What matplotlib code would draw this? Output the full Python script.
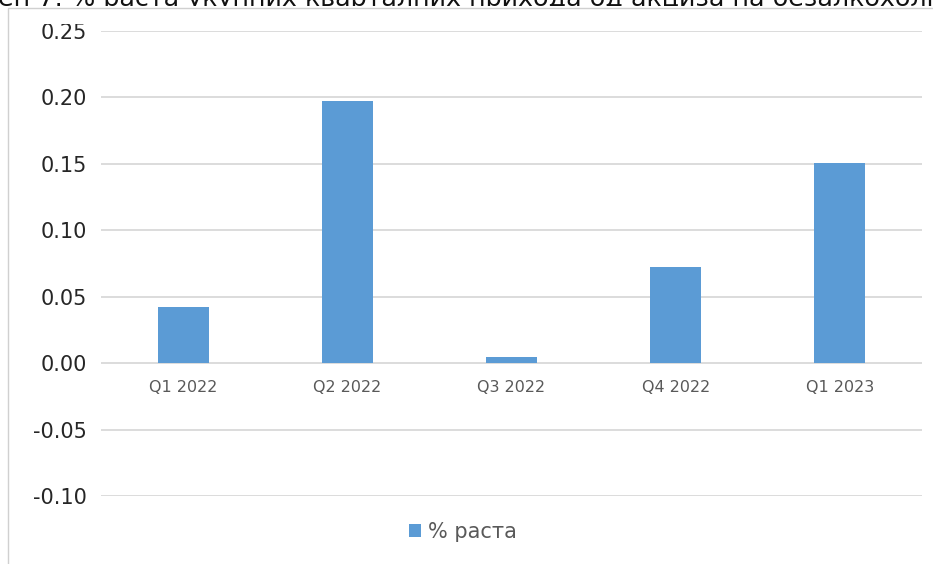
import matplotlib
matplotlib.use("Agg")
import matplotlib.pyplot as plt
from matplotlib.patches import Rectangle

quarters = ["Q1 2022", "Q2 2022", "Q3 2022", "Q4 2022", "Q1 2023"]
growth = [0.042, 0.197, 0.0045, 0.072, 0.1505]
yticks = [-0.10, -0.05, 0.00, 0.05, 0.10, 0.15, 0.20, 0.25]
series_label = "% раста"
title = "ен 7: % раста укупних кварталних прихода од акциза на безалкохолна пића"

W, H = 933, 564
BAR = "#5B9BD5"
GRID = "#d9d9d9"

plt.rcParams["font.family"] = ["DejaVu Sans"]
fig = plt.figure(figsize=(W / 100, H / 100), dpi=100)

# title, mostly hidden behind the chart area in the source screenshot
fig.text(-2 / W, 1 - 6 / H, title, fontsize=18.3, va="baseline", ha="left",
         color="#111111", zorder=3)
# white chart area covering the lower part of the title
fig.patches.append(Rectangle((0, 1 - 24 / H), 1, 18.5 / H, transform=fig.transFigure,
                             facecolor="white", edgecolor="none", zorder=3.5))
# outer chart frame (cut off right/bottom in the source)
fig.patches.append(Rectangle((8 / W, -0.05), 1.0, (H - 8) / H + 0.05,
                             transform=fig.transFigure, fill=False,
                             edgecolor="#d0d0d0", linewidth=1.0, zorder=4))

ax = fig.add_axes([101 / W, 68 / H, 821 / W, (496 - 31) / H])
x = range(len(quarters))
ax.bar(x, growth, width=0.31, color=BAR, zorder=3)

ax.set_xlim(-0.5, len(quarters) - 0.5)
ax.set_ylim(yticks[0], yticks[-1])
ax.set_yticks(yticks)
ax.set_yticklabels([f"{v:.2f}" for v in yticks])
ax.yaxis.grid(True, color=GRID, linewidth=1.3, zorder=0)
ax.set_axisbelow(True)

for s in ax.spines.values():
    s.set_visible(False)
ax.spines["bottom"].set_position(("data", 0))

ax.set_xticks(list(x))
ax.set_xticklabels(quarters)
ax.tick_params(axis="x", length=0, pad=12, labelsize=11.5, labelcolor="#595959")
ax.tick_params(axis="y", length=0, pad=10, labelsize=15, labelcolor="#262626")

leg = fig.legend([ax.patches[0]], [series_label], loc="center",
                 bbox_to_anchor=(463 / W, 1 - 532 / H),
                 frameon=False, fontsize=15, handlelength=0.55, handleheight=0.55,
                 handletextpad=0.35, labelcolor="#595959")

fig.savefig("out.png", dpi=100)
